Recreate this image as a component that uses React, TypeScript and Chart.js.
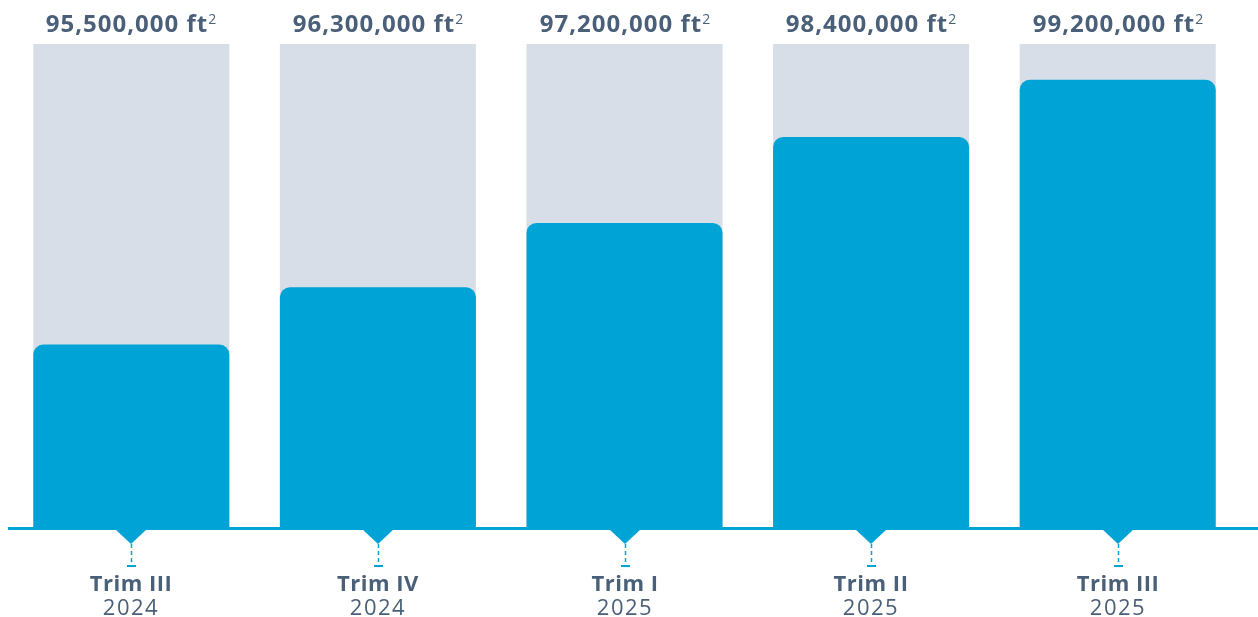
import React, { useEffect, useRef } from "react";
import { Chart, registerables } from "chart.js";

Chart.register(...registerables);

const periods = ["Trim III", "Trim IV", "Trim I", "Trim II", "Trim III"];
const years = ["2024", "2024", "2025", "2025", "2025"];
const areaValues = [95500000, 96300000, 97200000, 98400000, 99200000];
const scaleMin = 92950000;
const scaleMax = 99700000;
const backgroundValues = [scaleMax, scaleMax, scaleMax, scaleMax, scaleMax];

const BLUE = "#00a3d5";
const GRAY = "#d7dee7";
const TEXT = "#4a5f78";
const FONT = "'Open Sans', 'DejaVu Sans', sans-serif";

function setSpacing(ctx: any, v: string) {
  if ("letterSpacing" in ctx) ctx.letterSpacing = v;
}

const decorPlugin = {
  id: "decor",
  afterDatasetsDraw(chart: any) {
    const ctx = chart.ctx as CanvasRenderingContext2D;
    const area = chart.chartArea;
    const meta = chart.getDatasetMeta(0);
    const baseY = area.bottom;
    ctx.save();
    // baseline
    ctx.fillStyle = BLUE;
    ctx.fillRect(8, baseY, chart.width - 8, 3);
    meta.data.forEach((bar: any, i: number) => {
      const x = Math.round(bar.x);
      // triangle pointer
      ctx.fillStyle = BLUE;
      ctx.beginPath();
      ctx.moveTo(x - 16, baseY + 2);
      ctx.lineTo(x + 16, baseY + 2);
      ctx.lineTo(x, baseY + 17);
      ctx.closePath();
      ctx.fill();
      // dashed stem
      ctx.strokeStyle = BLUE;
      ctx.lineWidth = 1.5;
      ctx.setLineDash([4, 3]);
      ctx.beginPath();
      ctx.moveTo(x + 0.5, baseY + 17);
      ctx.lineTo(x + 0.5, baseY + 38);
      ctx.stroke();
      ctx.setLineDash([]);
      ctx.fillRect(x - 4, baseY + 38, 9, 2);
      // category labels
      ctx.fillStyle = TEXT;
      ctx.textAlign = "center";
      ctx.textBaseline = "alphabetic";
      ctx.font = `bold 22px ${FONT}`;
      setSpacing(ctx, "0.5px");
      ctx.fillText(periods[i], x, baseY + 64);
      ctx.font = `22px ${FONT}`;
      setSpacing(ctx, "1.5px");
      ctx.fillText(years[i], x, baseY + 88);
      // value label with superscript
      const main = areaValues[i].toLocaleString("en-US") + " ft";
      ctx.font = `bold 24px ${FONT}`;
      setSpacing(ctx, "1px");
      const w1 = ctx.measureText(main).width;
      setSpacing(ctx, "0px");
      ctx.font = `14px ${FONT}`;
      const w2 = ctx.measureText("2").width;
      const start = x - (w1 + w2) / 2;
      ctx.textAlign = "left";
      ctx.font = `bold 24px ${FONT}`;
      setSpacing(ctx, "1px");
      ctx.fillText(main, start, 32);
      setSpacing(ctx, "0px");
      ctx.font = `14px ${FONT}`;
      ctx.fillText("2", start + w1, 24);
    });
    ctx.restore();
  },
};

export default function App() {
  const ref = useRef<HTMLCanvasElement | null>(null);
  useEffect(() => {
    if (!ref.current) return;
    const chart = new Chart(ref.current, {
      type: "bar",
      data: {
        labels: periods,
        datasets: [
          {
            label: "Area",
            data: areaValues,
            backgroundColor: BLUE,
            borderRadius: 10,
            borderSkipped: "bottom",
            grouped: false,
            barPercentage: 0.795,
            categoryPercentage: 1,
          } as any,
          {
            label: "Background",
            data: backgroundValues,
            backgroundColor: GRAY,
            grouped: false,
            barPercentage: 0.795,
            categoryPercentage: 1,
          } as any,
        ],
      },
      options: {
        animation: false,
        responsive: false,
        maintainAspectRatio: false,
        layout: { padding: { top: 44, bottom: 90, left: 8, right: 17 } },
        plugins: { legend: { display: false }, tooltip: { enabled: false } },
        scales: {
          x: { display: false },
          y: { display: false, min: scaleMin, max: scaleMax },
        },
      },
      plugins: [decorPlugin],
    });
    return () => chart.destroy();
  }, []);
  return (
    <div style={{ position: "fixed", left: 0, top: 0, width: 1258, height: 617, background: "#fff" }}>
      <canvas ref={ref} width={1258} height={617} style={{ width: 1258, height: 617 }} />
    </div>
  );
}
